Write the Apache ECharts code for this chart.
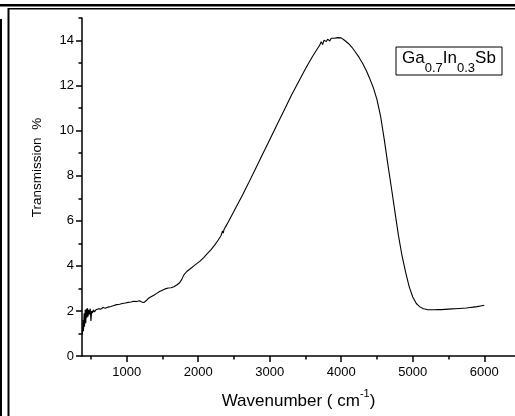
<!DOCTYPE html>
<html><head><meta charset="utf-8">
<script src="https://cdn.jsdelivr.net/npm/echarts@6/dist/echarts.min.js"></script>
<style>html,body{margin:0;padding:0;background:#fff}#c{width:515px;height:416px}</style>
</head><body><div id="c"></div>
<script>
// Wavenumber (cm^-1) and transmission (%)
const wavenumber = [380,390,395,405,410,420,428,436,444,452,460,470,480,490,500,510,520,535,550,570,590,610,640,670,700,740,780,820,860,900,940,980,1020,1060,1100,1140,1180,1210,1240,1270,1300,1340,1380,1420,1460,1500,1540,1580,1620,1660,1700,1740,1770,1800,1840,1880,1930,1980,2030,2080,2130,2180,2230,2280,2320,2340,2350,2360,2380,2420,2470,2520,2570,2620,2700,2800,2900,3000,3100,3200,3300,3400,3500,3600,3640,3680,3700,3720,3740,3760,3790,3810,3840,3860,3900,3950,4000,4050,4100,4150,4200,4250,4300,4350,4400,4450,4500,4550,4600,4650,4700,4750,4800,4850,4900,4950,5000,5050,5100,5150,5200,5250,5300,5350,5400,5450,5500,5550,5600,5650,5700,5750,5800,5850,5900,5950,6000];
const transmission = [0.95,1.6,1.1,1.9,1.3,2.05,1.45,2.1,1.7,2.12,1.75,2.05,1.85,2.1,1.55,2.0,1.9,2.05,1.95,2.05,2.02,2.1,2.08,2.15,2.12,2.17,2.2,2.24,2.28,2.3,2.33,2.35,2.38,2.4,2.43,2.42,2.45,2.4,2.37,2.45,2.55,2.63,2.7,2.78,2.86,2.92,2.98,3.02,3.03,3.07,3.15,3.25,3.4,3.6,3.75,3.85,3.98,4.1,4.22,4.38,4.55,4.72,4.92,5.15,5.35,5.55,5.45,5.6,5.72,5.95,6.25,6.55,6.85,7.15,7.65,8.3,8.95,9.6,10.25,10.9,11.55,12.15,12.75,13.3,13.5,13.7,13.8,13.95,13.82,14.02,13.95,14.06,13.98,14.1,14.1,14.13,14.12,14.0,13.87,13.7,13.48,13.25,12.98,12.67,12.3,11.9,11.38,10.65,9.65,8.55,7.5,6.42,5.35,4.45,3.72,3.08,2.62,2.33,2.18,2.1,2.06,2.05,2.05,2.06,2.06,2.07,2.08,2.09,2.1,2.11,2.12,2.13,2.15,2.17,2.19,2.22,2.25];
const xMajorTicks = [1000,2000,3000,4000,5000,6000];
const xMinorTicks = [500,1500,2500,3500,4500,5500];
const yMajorTicks = [0,2,4,6,8,10,12,14];
const yMinorTicks = [1,3,5,7,9,11,13,15];
const xTitle = '{a|Wavenumber ( cm}{s|-1}{a|)}';
const yTitle = 'Transmission  %';
const legendText = '{n|Ga}{s|0.7}{n|In}{s|0.3}{n|Sb}';

const FONT = 'Arial, "Liberation Sans", sans-serif';
const data = wavenumber.map((w, i) => [w, transmission[i]]);
const chart = echarts.init(document.getElementById('c'), null, {renderer: 'canvas'});
const axisCommon = {
  type: 'value', splitLine: {show: false}
};
chart.setOption({
  animation: false,
  backgroundColor: '#fff',
  grid: {left: 82, right: 0, top: 18, bottom: 60, containLabel: false},
  xAxis: [
    Object.assign({}, axisCommon, {
      min: 375, max: 6430, position: 'bottom',
      axisLine: {show: true, onZero: false, lineStyle: {color: '#000', width: 1.5}},
      axisTick: {show: true, customValues: xMajorTicks, length: 6, lineStyle: {color: '#000', width: 1.5}},
      axisLabel: {show: true, customValues: xMajorTicks, formatter: v => String(v), fontSize: 13, color: '#000', fontFamily: FONT, margin: 10},
      name: xTitle, nameLocation: 'middle', nameGap: 22,
      nameTextStyle: {rich: {
        a: {fontSize: 17, lineHeight: 17, verticalAlign: 'bottom', color: '#000', fontFamily: FONT},
        s: {fontSize: 11, lineHeight: 32, color: '#000', fontFamily: FONT}
      }}
    }),
    Object.assign({}, axisCommon, {
      min: 375, max: 6430, position: 'bottom',
      axisLine: {show: false, onZero: false},
      axisTick: {show: true, customValues: xMinorTicks, length: 3.5, lineStyle: {color: '#000', width: 1.5}},
      axisLabel: {show: false}
    })
  ],
  yAxis: [
    Object.assign({}, axisCommon, {
      min: 0, max: 15, position: 'left',
      axisLine: {show: true, onZero: false, lineStyle: {color: '#000', width: 1.5}},
      axisTick: {show: true, customValues: yMajorTicks, length: 6, lineStyle: {color: '#000', width: 1.5}},
      axisLabel: {show: true, customValues: yMajorTicks, fontSize: 13, color: '#000', fontFamily: FONT, margin: 8}
    }),
    Object.assign({}, axisCommon, {
      min: 0, max: 15, position: 'left',
      axisLine: {show: false, onZero: false},
      axisTick: {show: true, customValues: yMinorTicks, length: 3.5, lineStyle: {color: '#000', width: 1.5}},
      axisLabel: {show: false}
    })
  ],
  series: [{
    type: 'line', xAxisIndex: 0, yAxisIndex: 0, data: data,
    showSymbol: false, symbol: 'none', clip: true,
    lineStyle: {color: '#000', width: 1.1}
  }],
  graphic: [
    {type: 'line', shape: {x1: 0, y1: 5.2, x2: 515, y2: 5.2}, style: {stroke: '#000', lineWidth: 2.4}},
    {type: 'line', shape: {x1: 8, y1: 8.8, x2: 515, y2: 8.8}, style: {stroke: '#000', lineWidth: 1.4}},
    {type: 'line', shape: {x1: 1, y1: 19, x2: 1, y2: 416}, style: {stroke: '#000', lineWidth: 2}},
    {type: 'line', shape: {x1: 8.5, y1: 8, x2: 8.5, y2: 416}, style: {stroke: '#000', lineWidth: 2}},
    {type: 'text', x: 37, y: 167.5, rotation: Math.PI / 2,
      style: {text: yTitle, fontSize: 13.5, fontFamily: FONT, fill: '#000', align: 'center', verticalAlign: 'middle'}},
    {type: 'rect', shape: {x: 396, y: 47, width: 106, height: 28}, style: {fill: '#fff', stroke: '#000', lineWidth: 1}},
    {type: 'text', x: 449, y: 49.5, style: {text: legendText, align: 'center', verticalAlign: 'top', fill: '#000',
      rich: {
        n: {fontSize: 17, lineHeight: 17, verticalAlign: 'top', fontFamily: FONT, fill: '#000'},
        s: {fontSize: 13, lineHeight: 38, fontFamily: FONT, fill: '#000'}
      }}}
  ]
});
</script></body></html>
